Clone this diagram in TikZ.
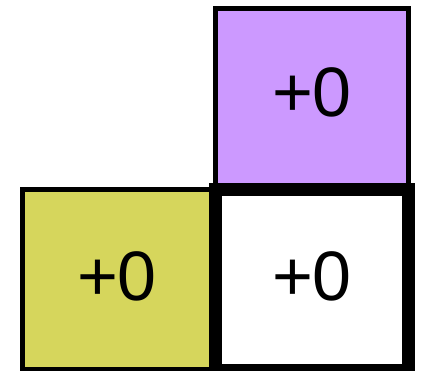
\documentclass[tikz,border=0pt]{standalone}
\usepackage{fontspec}
\setmainfont{Liberation Sans}
\definecolor{cellpurple}{RGB}{204,153,255}
\definecolor{cellyellow}{RGB}{214,214,92}
\tikzset{
  cell/.style={draw=black, line width=5pt},
  hicell/.style={draw=black, line width=13pt},
  celltext/.style={font=\fontsize{70}{70}\selectfont, inner sep=0pt, anchor=center}
}
\begin{document}
\begin{tikzpicture}[x=1pt,y=-1pt]
\useasboundingbox (0,0) rectangle (423,371);
\begin{scope}
\clip (0,0) rectangle (423,371);
\path[cell, fill=cellpurple] (215.5,8.5) rectangle (408.5,189.5);
\path[cell, fill=cellyellow] (22.5,189.5) rectangle (215.5,369.5);
\path[hicell, fill=white] (215.5,189.5) rectangle (408.5,370.5);
\end{scope}
\node[celltext] (p) at (312,92) {+0};
\node[celltext] (y) at (117,276.5) {+0};
\node[celltext] (w) at (312,276.5) {+0};
\end{tikzpicture}
\end{document}
